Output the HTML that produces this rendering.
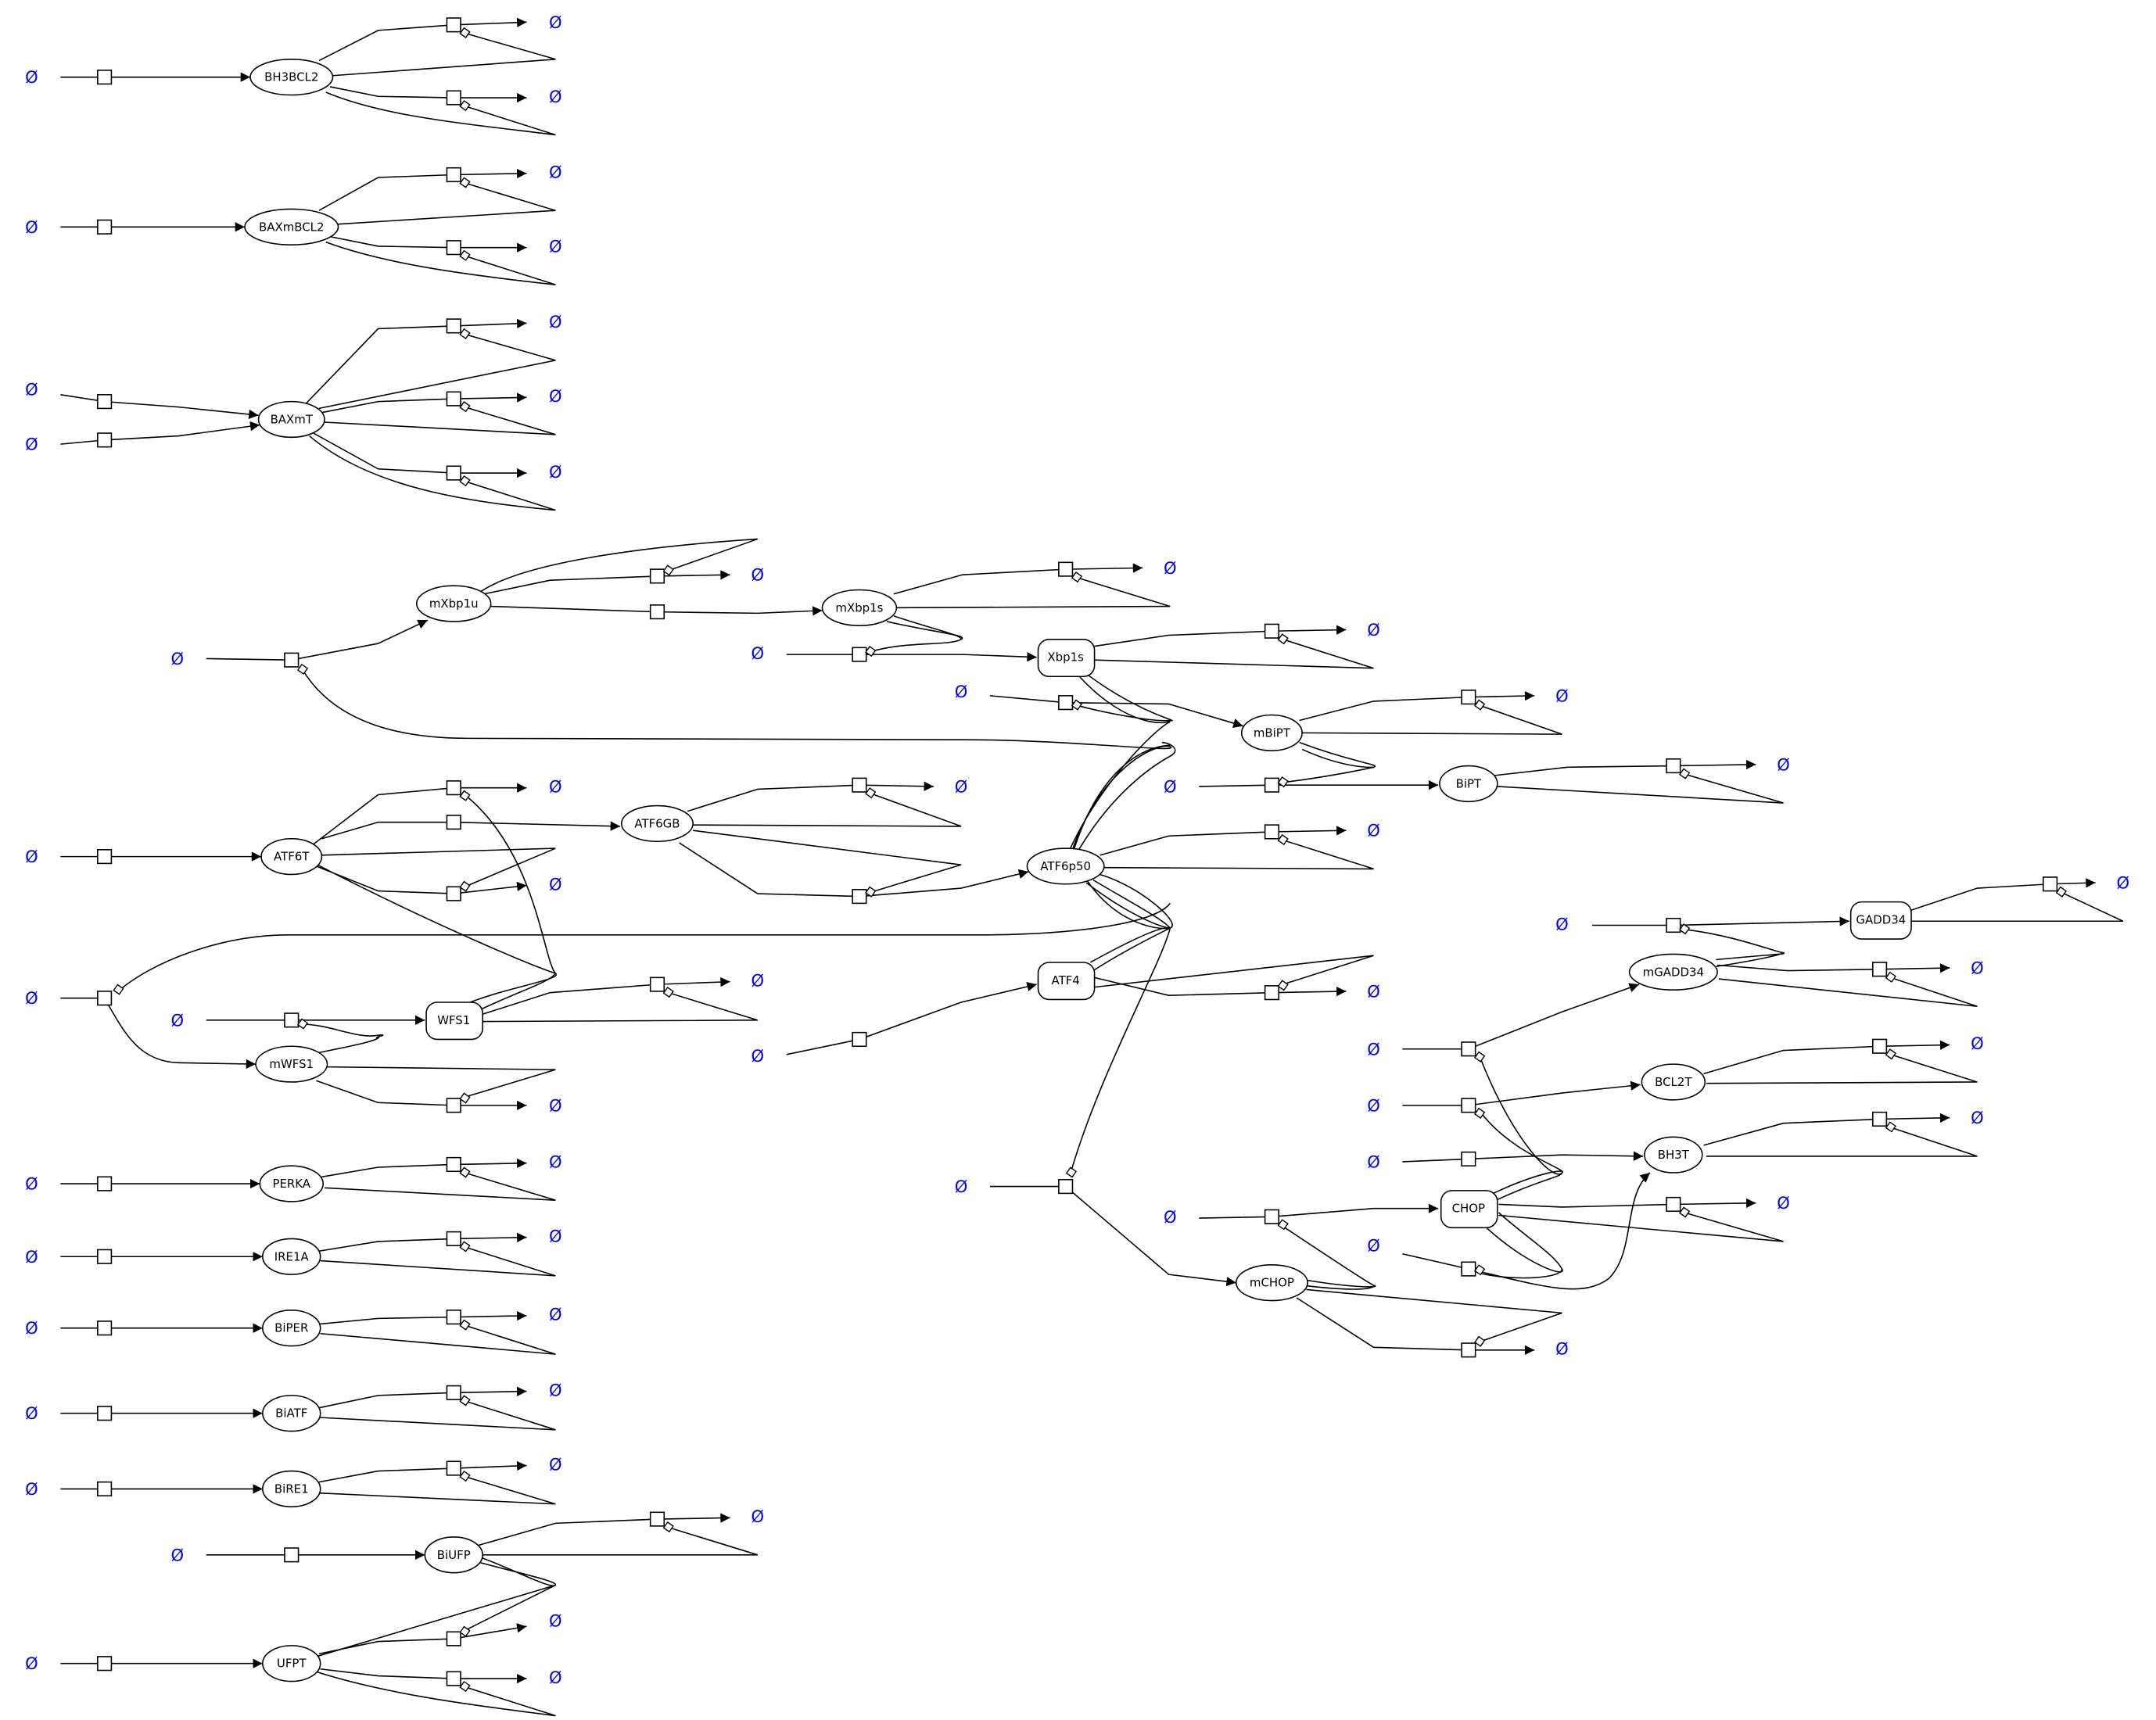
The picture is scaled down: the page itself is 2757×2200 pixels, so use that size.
<!DOCTYPE html>
<html><head><meta charset="utf-8"><style>
html,body{margin:0;padding:0;background:#fff}
svg{display:block}
text{font-family:"DejaVu Sans","Liberation Sans",sans-serif}
.n{font-size:8.5px;text-anchor:middle;dominant-baseline:central}
.p{font-size:12px;fill:#0000ff;text-anchor:middle;dominant-baseline:central}
path,line,polyline{fill:none;stroke:#000;stroke-width:0.9}
ellipse,rect.s,rect.r{fill:#fff;stroke:#000;stroke-width:0.9}
.d{fill:#fff;stroke:#000;stroke-width:0.8}
</style></head><body>
<svg width="2757" height="2200" viewBox="0 0 1568 1251" xmlns="http://www.w3.org/2000/svg">
<defs><marker id="a" viewBox="0 0 10 10" refX="10" refY="5" markerWidth="10" markerHeight="7" markerUnits="userSpaceOnUse" orient="auto"><path d="M0,0L10,5L0,10z" style="fill:#000;stroke:none"/></marker></defs>

<g>
<path d="M44,56H182" marker-end="url(#a)"/>
<path d="M44,165H178" marker-end="url(#a)"/>
<path d="M44,287L76,292L130,296L188,302" marker-end="url(#a)"/>
<path d="M44,323L76,320L130,317L189,309" marker-end="url(#a)"/>
<path d="M44,623H190" marker-end="url(#a)"/>
<path d="M44,861H189" marker-end="url(#a)"/>
<path d="M44,914H191" marker-end="url(#a)"/>
<path d="M44,966H191" marker-end="url(#a)"/>
<path d="M44,1028H191" marker-end="url(#a)"/>
<path d="M44,1083H191" marker-end="url(#a)"/>
<path d="M44,1210H191" marker-end="url(#a)"/>
<path d="M150,1131H309" marker-end="url(#a)"/>
<path d="M150,742H309" marker-end="url(#a)"/>
<path d="M44,726H76C90,750 100,772 130,773L186,774" marker-end="url(#a)"/>
<path d="M86,721C110,700 160,680 210,680L710,680C780,680 840,672 851,657"/>
<path d="M150,479L212,480L275,468L311,451" marker-end="url(#a)"/>
<path d="M220,487C240,520 280,537 340,537L700,538C780,538 860,548 851,543C840,540 800,560 780,618"/>
<path d="M357,441L478,445L551,446L598,444" marker-end="url(#a)"/>
<path d="M572,476L625,476L700,476L754,478" marker-end="url(#a)"/>
<path d="M720,506L775,511L850,512L904,528" marker-end="url(#a)"/>
<path d="M872,572L925,571L1000,571L1046,571" marker-end="url(#a)"/>
<path d="M234,610L275,598L330,598L451,601" marker-end="url(#a)"/>
<path d="M494,613L551,650L625,652L699,646L748,634" marker-end="url(#a)"/>
<path d="M572,767L625,756L699,729L754,716" marker-end="url(#a)"/>
<path d="M720,863L775,863L850,927L899,933" marker-end="url(#a)"/>
<path d="M872,886L925,885L999,879L1046,879" marker-end="url(#a)"/>
<path d="M1158,673L1217,673L1345,670" marker-end="url(#a)"/>
<path d="M1020,763L1068,763L1136,736L1192,716" marker-end="url(#a)"/>
<path d="M1020,804L1068,804L1136,795L1193,789" marker-end="url(#a)"/>
<path d="M1020,845L1068,843L1136,840L1195,841" marker-end="url(#a)"/>
<path d="M1020,912L1068,923C1120,935 1150,945 1170,930C1190,910 1180,870 1200,853" marker-end="url(#a)"/>
</g>

<g>
<path d="M232,44L275,22L330,18L383,16" marker-end="url(#a)"/><path d="M241,55L404,43L338,24"/>
<path d="M240,63L275,70L330,71L383,71" marker-end="url(#a)"/><path d="M237,67C280,85 340,90 404,98L338,77"/>
<path d="M232,153L275,129L330,127L383,126" marker-end="url(#a)"/><path d="M245,163L404,153L338,133"/>
<path d="M240,172L275,179L330,180L383,180" marker-end="url(#a)"/><path d="M237,176C280,192 340,200 404,207L338,186"/>
<path d="M222,294L275,239L330,237L383,235" marker-end="url(#a)"/><path d="M232,297L404,262L338,243"/>
<path d="M234,300L275,292L330,290L383,289" marker-end="url(#a)"/><path d="M236,307L404,316L338,296"/>
<path d="M228,315L275,341L330,344L383,344" marker-end="url(#a)"/><path d="M225,317C270,355 340,365 404,371L338,350"/>
<path d="M352,432L400,422L478,419L531,418" marker-end="url(#a)"/><path d="M350,430C380,410 460,398 551,392L486,415"/>
<path d="M650,432L700,418L775,414L831,413" marker-end="url(#a)"/><path d="M652,442L851,441L783,420"/>
<path d="M796,470L850,462L925,459L979,458" marker-end="url(#a)"/><path d="M796,480L999,486L933,465"/>
<path d="M945,524L999,510L1068,507L1116,506" marker-end="url(#a)"/><path d="M947,533L1136,534L1076,513"/>
<path d="M1087,564L1140,558L1217,557L1277,556" marker-end="url(#a)"/><path d="M1089,572L1297,584L1225,563"/>
<path d="M228,614L275,578L330,573L383,573" marker-end="url(#a)"/>
<path d="M234,622L404,617L338,645"/><path d="M230,630L275,648L330,650L383,644" marker-end="url(#a)"/>
<path d="M500,590L551,574L625,571L679,572" marker-end="url(#a)"/><path d="M504,600L699,601L633,577"/>
<path d="M504,604L699,629L633,649"/>
<path d="M800,622L850,608L925,605L979,604" marker-end="url(#a)"/><path d="M803,631L999,632L933,611"/>
<path d="M796,711L850,724L925,722L979,721" marker-end="url(#a)"/><path d="M796,718L999,695L933,716"/>
<path d="M350,738L400,722L478,716L531,714" marker-end="url(#a)"/><path d="M351,743L551,742L486,722"/>
<path d="M230,786L275,802L330,804L383,804" marker-end="url(#a)"/><path d="M237,776L404,778L338,798"/>
<path d="M234,856L275,849L330,847L383,846" marker-end="url(#a)"/><path d="M236,864L404,873L338,853"/>
<path d="M232,910L275,903L330,901L383,900" marker-end="url(#a)"/><path d="M233,917L404,928L338,907"/>
<path d="M233,963L275,959L330,958L383,957" marker-end="url(#a)"/><path d="M233,970L404,985L338,964"/>
<path d="M232,1024L275,1015L330,1013L383,1012" marker-end="url(#a)"/><path d="M232,1031L404,1040L338,1019"/>
<path d="M232,1078L275,1070L330,1068L383,1066" marker-end="url(#a)"/><path d="M232,1086L404,1094L338,1074"/>
<path d="M348,1124L404,1108L478,1105L531,1104" marker-end="url(#a)"/><path d="M351,1131L551,1131L486,1111"/>
<path d="M232,1203L275,1194L330,1192L383,1183" marker-end="url(#a)"/><path d="M230,1205L404,1153L338,1186"/>
<path d="M347,1136C380,1145 405,1150 404,1153C400,1156 370,1140 350,1133"/>
<path d="M233,1214L275,1219L330,1221L383,1221" marker-end="url(#a)"/><path d="M230,1216C280,1232 340,1240 404,1248L338,1227"/>
<path d="M1390,662L1438,646L1491,643L1524,642" marker-end="url(#a)"/><path d="M1390,670L1544,670L1499,649"/>
<path d="M1249,702L1300,706L1367,705L1418,704" marker-end="url(#a)"/><path d="M1250,712L1438,732L1375,711"/>
<path d="M1239,781L1297,764L1367,761L1418,760" marker-end="url(#a)"/><path d="M1241,788L1438,787L1375,767"/>
<path d="M1239,833L1297,817L1367,814L1418,813" marker-end="url(#a)"/><path d="M1241,841L1438,841L1375,820"/>
<path d="M1090,876L1136,878L1217,876L1277,875" marker-end="url(#a)"/><path d="M1090,884L1297,903L1225,882"/>
<path d="M943,944L999,980L1068,982L1116,982" marker-end="url(#a)"/><path d="M950,938L1136,955L1076,976"/>
</g>

<g>
<path d="M645,452C680,460 705,462 699,465C690,470 660,466 633,474"/>
<path d="M650,448C680,458 700,462 699,465"/>
<path d="M945,540C985,555 1005,556 999,558C990,560 960,566 933,569"/>
<path d="M947,545C980,560 1000,558 999,558"/>
<path d="M1248,698C1290,694 1300,694 1297,693C1290,692 1260,680 1225,676"/>
<path d="M1248,703C1280,698 1297,694 1297,693"/>
<path d="M275,755C270,755 285,752 275,753C260,756 240,745 220,745"/>
<path d="M230,766C260,760 280,756 275,753"/>
<path d="M943,930C990,938 1005,936 999,935C990,930 960,910 933,892"/>
<path d="M948,935C990,940 1000,937 999,935"/>
<path d="M342,729C370,718 410,712 404,708C395,698 390,620 338,578"/>
<path d="M350,734C380,720 400,714 404,708"/>
<path d="M229,628C300,665 380,700 404,708"/>
<path d="M790,490C830,520 860,525 851,524C840,525 810,520 783,513"/>
<path d="M785,492C820,530 850,527 851,524"/>
<path d="M778,618C800,570 840,530 851,525"/>
<path d="M781,618C800,560 830,543 851,542"/>
<path d="M784,619C810,575 840,556 851,550C860,545 850,540 845,540"/>
<path d="M800,636C830,645 860,672 851,675C840,677 800,670 780,620"/>
<path d="M795,640C820,655 845,668 851,675"/>
<path d="M790,642C820,665 845,675 851,675C845,700 800,780 779,852"/>
<path d="M793,700C820,685 845,673 851,675"/>
<path d="M795,706C820,690 845,678 851,675"/>
<path d="M1086,868C1120,852 1140,850 1136,853C1130,860 1100,830 1076,768"/>
<path d="M1088,873C1120,858 1136,856 1136,853"/>
<path d="M1080,892C1110,920 1140,930 1136,923C1130,912 1110,900 1090,882"/>
<path d="M1136,853C1140,850 1100,840 1076,808"/>
<path d="M1076,926C1100,932 1136,930 1136,923"/>
</g>

<g>
<rect class="s" x="71" y="51" width="10" height="10"/><rect class="s" x="71" y="160" width="10" height="10"/>
<rect class="s" x="71" y="287" width="10" height="10"/><rect class="s" x="71" y="315" width="10" height="10"/>
<rect class="s" x="71" y="618" width="10" height="10"/><rect class="s" x="71" y="721" width="10" height="10"/>
<rect class="s" x="71" y="856" width="10" height="10"/><rect class="s" x="71" y="909" width="10" height="10"/>
<rect class="s" x="71" y="961" width="10" height="10"/><rect class="s" x="71" y="1023" width="10" height="10"/>
<rect class="s" x="71" y="1078" width="10" height="10"/><rect class="s" x="71" y="1205" width="10" height="10"/>
<rect class="s" x="207" y="475" width="10" height="10"/><rect class="s" x="207" y="737" width="10" height="10"/>
<rect class="s" x="207" y="1126" width="10" height="10"/>
<rect class="s" x="325" y="13" width="10" height="10"/><rect class="s" x="325" y="66" width="10" height="10"/>
<rect class="s" x="325" y="122" width="10" height="10"/><rect class="s" x="325" y="175" width="10" height="10"/>
<rect class="s" x="325" y="232" width="10" height="10"/><rect class="s" x="325" y="285" width="10" height="10"/>
<rect class="s" x="325" y="339" width="10" height="10"/><rect class="s" x="325" y="568" width="10" height="10"/>
<rect class="s" x="325" y="593" width="10" height="10"/><rect class="s" x="325" y="645" width="10" height="10"/>
<rect class="s" x="325" y="799" width="10" height="10"/><rect class="s" x="325" y="842" width="10" height="10"/>
<rect class="s" x="325" y="896" width="10" height="10"/><rect class="s" x="325" y="953" width="10" height="10"/>
<rect class="s" x="325" y="1008" width="10" height="10"/><rect class="s" x="325" y="1063" width="10" height="10"/>
<rect class="s" x="325" y="1187" width="10" height="10"/><rect class="s" x="325" y="1216" width="10" height="10"/>
<rect class="s" x="473" y="414" width="10" height="10"/><rect class="s" x="473" y="440" width="10" height="10"/>
<rect class="s" x="473" y="711" width="10" height="10"/><rect class="s" x="473" y="1100" width="10" height="10"/>
<rect class="s" x="620" y="471" width="10" height="10"/><rect class="s" x="620" y="566" width="10" height="10"/>
<rect class="s" x="620" y="647" width="10" height="10"/><rect class="s" x="620" y="751" width="10" height="10"/>
<rect class="s" x="770" y="409" width="10" height="10"/><rect class="s" x="770" y="506" width="10" height="10"/>
<rect class="s" x="770" y="858" width="10" height="10"/>
<rect class="s" x="920" y="454" width="10" height="10"/><rect class="s" x="920" y="566" width="10" height="10"/>
<rect class="s" x="920" y="600" width="10" height="10"/><rect class="s" x="920" y="717" width="10" height="10"/>
<rect class="s" x="920" y="880" width="10" height="10"/>
<rect class="s" x="1063" y="502" width="10" height="10"/><rect class="s" x="1063" y="758" width="10" height="10"/>
<rect class="s" x="1063" y="799" width="10" height="10"/><rect class="s" x="1063" y="838" width="10" height="10"/>
<rect class="s" x="1063" y="918" width="10" height="10"/><rect class="s" x="1063" y="977" width="10" height="10"/>
<rect class="s" x="1212" y="552" width="10" height="10"/><rect class="s" x="1212" y="668" width="10" height="10"/>
<rect class="s" x="1212" y="871" width="10" height="10"/>
<rect class="s" x="1362" y="700" width="10" height="10"/><rect class="s" x="1362" y="756" width="10" height="10"/>
<rect class="s" x="1362" y="809" width="10" height="10"/><rect class="s" x="1486" y="638" width="10" height="10"/>
</g>

<g>
<rect class="d" x="336" y="21" width="5" height="5" transform="rotate(35 338 23)"/>
<rect class="d" x="336" y="74" width="5" height="5" transform="rotate(35 338 76)"/>
<rect class="d" x="336" y="130" width="5" height="5" transform="rotate(35 338 132)"/>
<rect class="d" x="336" y="183" width="5" height="5" transform="rotate(35 338 185)"/>
<rect class="d" x="336" y="240" width="5" height="5" transform="rotate(35 338 242)"/>
<rect class="d" x="336" y="293" width="5" height="5" transform="rotate(35 338 295)"/>
<rect class="d" x="336" y="347" width="5" height="5" transform="rotate(35 338 349)"/>
<rect class="d" x="336" y="576" width="5" height="5" transform="rotate(35 338 578)"/>
<rect class="d" x="336" y="642" width="5" height="5" transform="rotate(35 338 644)"/>
<rect class="d" x="336" y="796" width="5" height="5" transform="rotate(35 338 798)"/>
<rect class="d" x="336" y="850" width="5" height="5" transform="rotate(35 338 852)"/>
<rect class="d" x="336" y="904" width="5" height="5" transform="rotate(35 338 906)"/>
<rect class="d" x="336" y="961" width="5" height="5" transform="rotate(35 338 963)"/>
<rect class="d" x="336" y="1016" width="5" height="5" transform="rotate(35 338 1018)"/>
<rect class="d" x="336" y="1071" width="5" height="5" transform="rotate(35 338 1073)"/>
<rect class="d" x="336" y="1184" width="5" height="5" transform="rotate(35 338 1186)"/>
<rect class="d" x="336" y="1224" width="5" height="5" transform="rotate(35 338 1226)"/>
<rect class="d" x="84" y="717" width="5" height="5" transform="rotate(35 86 719)"/>
<rect class="d" x="218" y="484" width="5" height="5" transform="rotate(35 220 486)"/>
<rect class="d" x="218" y="742" width="5" height="5" transform="rotate(35 220 744)"/>
<rect class="d" x="484" y="412" width="5" height="5" transform="rotate(35 486 414)"/>
<rect class="d" x="484" y="719" width="5" height="5" transform="rotate(35 486 721)"/>
<rect class="d" x="484" y="1108" width="5" height="5" transform="rotate(35 486 1110)"/>
<rect class="d" x="631" y="471" width="5" height="5" transform="rotate(35 633 473)"/>
<rect class="d" x="631" y="574" width="5" height="5" transform="rotate(35 633 576)"/>
<rect class="d" x="631" y="646" width="5" height="5" transform="rotate(35 633 648)"/>
<rect class="d" x="781" y="417" width="5" height="5" transform="rotate(35 783 419)"/>
<rect class="d" x="781" y="510" width="5" height="5" transform="rotate(35 783 512)"/>
<rect class="d" x="777" y="850" width="5" height="5" transform="rotate(35 779 852)"/>
<rect class="d" x="931" y="462" width="5" height="5" transform="rotate(35 933 464)"/>
<rect class="d" x="931" y="566" width="5" height="5" transform="rotate(35 933 568)"/>
<rect class="d" x="931" y="608" width="5" height="5" transform="rotate(35 933 610)"/>
<rect class="d" x="931" y="714" width="5" height="5" transform="rotate(35 933 716)"/>
<rect class="d" x="931" y="888" width="5" height="5" transform="rotate(35 933 890)"/>
<rect class="d" x="1074" y="510" width="5" height="5" transform="rotate(35 1076 512)"/>
<rect class="d" x="1074" y="766" width="5" height="5" transform="rotate(35 1076 768)"/>
<rect class="d" x="1074" y="807" width="5" height="5" transform="rotate(35 1076 809)"/>
<rect class="d" x="1074" y="921" width="5" height="5" transform="rotate(35 1076 923)"/>
<rect class="d" x="1074" y="973" width="5" height="5" transform="rotate(35 1076 975)"/>
<rect class="d" x="1223" y="560" width="5" height="5" transform="rotate(35 1225 562)"/>
<rect class="d" x="1223" y="673" width="5" height="5" transform="rotate(35 1225 675)"/>
<rect class="d" x="1223" y="879" width="5" height="5" transform="rotate(35 1225 881)"/>
<rect class="d" x="1373" y="708" width="5" height="5" transform="rotate(35 1375 710)"/>
<rect class="d" x="1373" y="764" width="5" height="5" transform="rotate(35 1375 766)"/>
<rect class="d" x="1373" y="817" width="5" height="5" transform="rotate(35 1375 819)"/>
<rect class="d" x="1497" y="646" width="5" height="5" transform="rotate(35 1499 648)"/>
</g>

<g>
<ellipse cx="212" cy="56" rx="30" ry="13"/><text class="n" x="212" y="56">BH3BCL2</text>
<ellipse cx="212" cy="165" rx="34" ry="13"/><text class="n" x="212" y="165">BAXmBCL2</text>
<ellipse cx="212" cy="305" rx="24" ry="13"/><text class="n" x="212" y="305">BAXmT</text>
<ellipse cx="330" cy="439" rx="27" ry="13"/><text class="n" x="330" y="439">mXbp1u</text>
<ellipse cx="625" cy="442" rx="27" ry="13"/><text class="n" x="625" y="442">mXbp1s</text>
<ellipse cx="212" cy="623" rx="22" ry="13"/><text class="n" x="212" y="623">ATF6T</text>
<ellipse cx="478" cy="599" rx="26" ry="13"/><text class="n" x="478" y="599">ATF6GB</text>
<ellipse cx="212" cy="774" rx="26" ry="13"/><text class="n" x="212" y="774">mWFS1</text>
<ellipse cx="212" cy="861" rx="23" ry="13"/><text class="n" x="212" y="861">PERKA</text>
<ellipse cx="212" cy="914" rx="21" ry="13"/><text class="n" x="212" y="914">IRE1A</text>
<ellipse cx="212" cy="966" rx="21" ry="13"/><text class="n" x="212" y="966">BiPER</text>
<ellipse cx="212" cy="1028" rx="21" ry="13"/><text class="n" x="212" y="1028">BiATF</text>
<ellipse cx="212" cy="1083" rx="21" ry="13"/><text class="n" x="212" y="1083">BiRE1</text>
<ellipse cx="330" cy="1131" rx="21" ry="13"/><text class="n" x="330" y="1131">BiUFP</text>
<ellipse cx="212" cy="1210" rx="21" ry="13"/><text class="n" x="212" y="1210">UFPT</text>
<ellipse cx="925" cy="533" rx="22" ry="13"/><text class="n" x="925" y="533">mBiPT</text>
<ellipse cx="1068" cy="570" rx="21" ry="13"/><text class="n" x="1068" y="570">BiPT</text>
<ellipse cx="775" cy="630" rx="28" ry="13"/><text class="n" x="775" y="630">ATF6p50</text>
<ellipse cx="1217" cy="707" rx="32" ry="13"/><text class="n" x="1217" y="707">mGADD34</text>
<ellipse cx="1217" cy="787" rx="23" ry="13"/><text class="n" x="1217" y="787">BCL2T</text>
<ellipse cx="1217" cy="840" rx="21" ry="13"/><text class="n" x="1217" y="840">BH3T</text>
<ellipse cx="925" cy="933" rx="26" ry="13"/><text class="n" x="925" y="933">mCHOP</text>
<rect class="r" x="755" y="465" width="41" height="27" rx="8"/><text class="n" x="775" y="478">Xbp1s</text>
<rect class="r" x="310" y="729" width="41" height="27" rx="8"/><text class="n" x="330" y="742">WFS1</text>
<rect class="r" x="755" y="700" width="41" height="27" rx="8"/><text class="n" x="775" y="713">ATF4</text>
<rect class="r" x="1346" y="656" width="44" height="27" rx="8"/><text class="n" x="1368" y="669">GADD34</text>
<rect class="r" x="1048" y="866" width="41" height="27" rx="8"/><text class="n" x="1068" y="879">CHOP</text>
</g>

<g>
<text class="p" x="23" y="56">Ø</text><text class="p" x="23" y="165">Ø</text><text class="p" x="23" y="283">Ø</text>
<text class="p" x="23" y="323">Ø</text><text class="p" x="23" y="623">Ø</text><text class="p" x="23" y="726">Ø</text>
<text class="p" x="23" y="861">Ø</text><text class="p" x="23" y="914">Ø</text><text class="p" x="23" y="966">Ø</text>
<text class="p" x="23" y="1028">Ø</text><text class="p" x="23" y="1083">Ø</text><text class="p" x="23" y="1210">Ø</text>
<text class="p" x="129" y="479">Ø</text><text class="p" x="129" y="742">Ø</text><text class="p" x="129" y="1131">Ø</text>
<text class="p" x="404" y="16">Ø</text><text class="p" x="404" y="70">Ø</text><text class="p" x="404" y="125">Ø</text>
<text class="p" x="404" y="179">Ø</text><text class="p" x="404" y="234">Ø</text><text class="p" x="404" y="288">Ø</text>
<text class="p" x="404" y="343">Ø</text><text class="p" x="404" y="572">Ø</text><text class="p" x="404" y="643">Ø</text>
<text class="p" x="404" y="804">Ø</text><text class="p" x="404" y="845">Ø</text><text class="p" x="404" y="899">Ø</text>
<text class="p" x="404" y="956">Ø</text><text class="p" x="404" y="1011">Ø</text><text class="p" x="404" y="1065">Ø</text>
<text class="p" x="404" y="1179">Ø</text><text class="p" x="404" y="1220">Ø</text>
<text class="p" x="551" y="418">Ø</text><text class="p" x="551" y="475">Ø</text><text class="p" x="551" y="713">Ø</text>
<text class="p" x="551" y="768">Ø</text><text class="p" x="551" y="1103">Ø</text>
<text class="p" x="699" y="503">Ø</text><text class="p" x="699" y="572">Ø</text><text class="p" x="699" y="863">Ø</text>
<text class="p" x="851" y="413">Ø</text><text class="p" x="851" y="572">Ø</text><text class="p" x="851" y="885">Ø</text>
<text class="p" x="999" y="458">Ø</text><text class="p" x="999" y="604">Ø</text><text class="p" x="999" y="721">Ø</text>
<text class="p" x="999" y="763">Ø</text><text class="p" x="999" y="804">Ø</text><text class="p" x="999" y="845">Ø</text>
<text class="p" x="999" y="906">Ø</text>
<text class="p" x="1136" y="506">Ø</text><text class="p" x="1136" y="672">Ø</text><text class="p" x="1136" y="981">Ø</text>
<text class="p" x="1297" y="556">Ø</text><text class="p" x="1297" y="875">Ø</text>
<text class="p" x="1438" y="704">Ø</text><text class="p" x="1438" y="759">Ø</text><text class="p" x="1438" y="813">Ø</text>
<text class="p" x="1544" y="642">Ø</text>
</g>
</svg>
</body></html>
